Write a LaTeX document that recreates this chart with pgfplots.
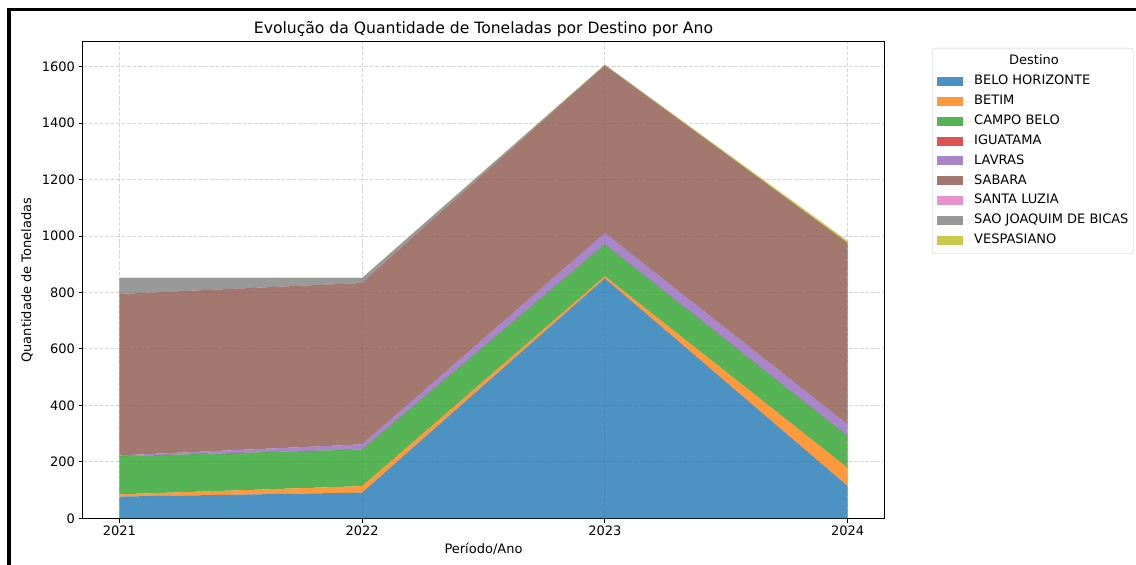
\documentclass[border=0pt]{standalone}
\usepackage{pgfplots}
\pgfplotsset{compat=1.18}
\usepackage{fontspec}
\setmainfont{DejaVu Sans}
\definecolor{cBH}{HTML}{1F77B4}
\definecolor{cBE}{HTML}{FF7F0E}
\definecolor{cCB}{HTML}{2CA02C}
\definecolor{cIG}{HTML}{D62728}
\definecolor{cLA}{HTML}{9467BD}
\definecolor{cSA}{HTML}{8C564B}
\definecolor{cSL}{HTML}{E377C2}
\definecolor{cSJ}{HTML}{7F7F7F}
\definecolor{cVE}{HTML}{BCBD22}
\begin{document}
\begin{tikzpicture}
\useasboundingbox (0,0) rectangle (1136pt,565pt);
\begin{axis}[
  at={(83pt,46.7pt)}, anchor=south west,
  scale only axis, width=801pt, height=476.3pt,
  xmin=2020.85, xmax=2024.15, ymin=0, ymax=1688,
  xtick={2021,2022,2023,2024}, xticklabels={2021,2022,2023,2024},
  ytick={0,200,400,600,800,1000,1200,1400,1600},
  /pgf/number format/assume math mode=true,
  /pgf/number format/1000 sep={},
  tick label style={font=\fontsize{13}{15}\selectfont},
  major tick length=4.5pt, tick align=outside, tick pos=left,
  tick style={line width=1pt, black},
  axis line style={line width=1pt},
  grid=major,
  grid style={gray!45, opacity=0.7, line width=1pt, dash pattern=on 3.85pt off 1.66pt},
  stack plots=y,
  title={Evolução da Quantidade de Toneladas por Destino por Ano},
  title style={font=\fontsize{15.6}{18}\selectfont, at={(axis description cs:0.5,1.0147)}, anchor=center},
  xlabel={Período/Ano},
  xlabel style={font=\fontsize{13}{15}\selectfont, at={(axis description cs:0.5,-0.0645)}, anchor=center},
  ylabel={Quantidade de Toneladas},
  ylabel style={font=\fontsize{13}{15}\selectfont, at={(axis description cs:-0.0699,0.5)}, anchor=center},
  legend cell align=left,
  legend image code/.code={\fill[#1,draw=none,sharp corners] (0pt,-4.5pt) rectangle (26pt,4.5pt); \path (0pt,0pt) -- (37pt,0pt);},
  legend style={at={(1.0599,0.9874)}, anchor=north west, draw=black!20, rounded corners=3pt, fill=white,
    font=\fontsize{13}{15}\selectfont, inner xsep=5pt, inner ysep=7pt, row sep=7.4pt,
    nodes={inner sep=0pt, text height=9.5pt, text depth=3pt}},
]
\addlegendimage{empty legend}
\addlegendentry{\hspace{35pt}Destino}
\addplot[fill=cBH, fill opacity=0.8, draw=none] coordinates {(2021,77) (2022,91) (2023,850) (2024,114)} \closedcycle;
\addlegendentry{BELO HORIZONTE}
\addplot[fill=cBE, fill opacity=0.8, draw=none] coordinates {(2021,8) (2022,23) (2023,8) (2024,65)} \closedcycle;
\addlegendentry{BETIM}
\addplot[fill=cCB, fill opacity=0.8, draw=none] coordinates {(2021,135) (2022,130) (2023,113) (2024,112)} \closedcycle;
\addlegendentry{CAMPO BELO}
\addplot[fill=cIG, fill opacity=0.8, draw=none] coordinates {(2021,0) (2022,0) (2023,0) (2024,0)} \closedcycle;
\addlegendentry{IGUATAMA}
\addplot[fill=cLA, fill opacity=0.8, draw=none] coordinates {(2021,3) (2022,18) (2023,40) (2024,42)} \closedcycle;
\addlegendentry{LAVRAS}
\addplot[fill=cSA, fill opacity=0.8, draw=none] coordinates {(2021,572) (2022,572) (2023,593) (2024,642)} \closedcycle;
\addlegendentry{SABARA}
\addplot[fill=cSL, fill opacity=0.8, draw=none] coordinates {(2021,0) (2022,0) (2023,0) (2024,0)} \closedcycle;
\addlegendentry{SANTA LUZIA}
\addplot[fill=cSJ, fill opacity=0.8, draw=none] coordinates {(2021,57) (2022,18) (2023,2) (2024,0)} \closedcycle;
\addlegendentry{SAO JOAQUIM DE BICAS}
\addplot[fill=cVE, fill opacity=0.8, draw=none] coordinates {(2021,0) (2022,0) (2023,2) (2024,8)} \closedcycle;
\addlegendentry{VESPASIANO}
\end{axis}
\draw[line width=3.5pt, black, line join=miter] (9pt,0pt) -- (9pt,555.5pt) -- (1136pt,555.5pt);
\end{tikzpicture}
\end{document}
